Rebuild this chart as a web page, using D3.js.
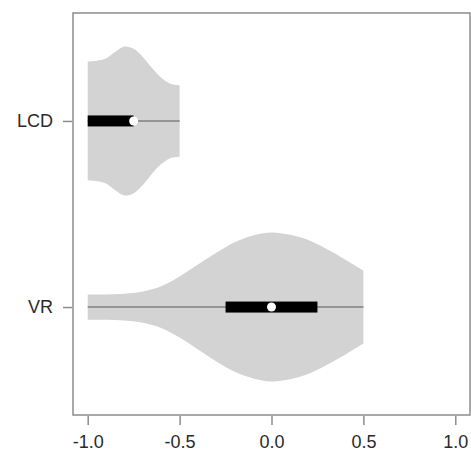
<!DOCTYPE html>
<html>
<head>
<meta charset="utf-8">
<script src="https://cdn.jsdelivr.net/npm/d3@7"></script>
<style>
  body { margin: 0; background: #fff; }
  text { font-family: "Liberation Sans", Arial, sans-serif; }
</style>
</head>
<body>
<script>
// groups (bottom to top)
var categories = ["VR", "LCD"];
var positions = [1, 2];

// box summaries
var mins    = [-1.0, -1.0];
var q1s     = [-0.25, -1.0];
var medians = [0.0, -0.75];
var q3s     = [0.25, -0.75];
var maxs    = [0.5, -0.5];

// density profiles (relative, max = 1)
var vrGrid  = [-1.0, -0.9, -0.8, -0.7, -0.6, -0.5, -0.4, -0.3, -0.2, -0.1, 0.0, 0.1, 0.2, 0.3, 0.4, 0.5];
var vrDens  = [0.17, 0.17, 0.18, 0.21, 0.28, 0.41, 0.57, 0.73, 0.87, 0.96, 1.0, 0.97, 0.90, 0.78, 0.64, 0.49];
var lcdGrid = [-1.0, -0.95, -0.9, -0.85, -0.8, -0.75, -0.7, -0.65, -0.6, -0.55, -0.5];
var lcdDens = [0.80, 0.81, 0.84, 0.93, 1.00, 0.97, 0.86, 0.71, 0.58, 0.50, 0.48];

var xTicks = [-1.0, -0.5, 0.0, 0.5, 1.0];

var W = 471, H = 451;
var svg = d3.select("body").append("svg").attr("width", W).attr("height", H);

var x = d3.scaleLinear().domain([-1.08, 1.08]).range([73, 470]);
var y = d3.scaleLinear().domain([0.42, 2.58]).range([415, 13]);
var halfW = y(0) - y(0.4); // max half width in px

var grids = [vrGrid, lcdGrid];
var dens = [vrDens, lcdDens];

categories.forEach(function(c, i) {
  var pts = grids[i].map(function(v, j) { return [v, dens[i][j]]; });
  var cy = y(positions[i]);
  var area = d3.area()
    .x(function(d) { return x(d[0]); })
    .y0(function(d) { return cy - d[1] * halfW; })
    .y1(function(d) { return cy + d[1] * halfW; })
    .curve(d3.curveCatmullRom.alpha(0.5));
  svg.append("path").attr("d", area(pts)).attr("fill", "#d3d3d3");

  svg.append("line")
    .attr("x1", x(mins[i])).attr("x2", x(maxs[i]))
    .attr("y1", cy).attr("y2", cy)
    .attr("stroke", "#7f7f7f").attr("stroke-width", 1.5);
  svg.append("rect")
    .attr("x", x(q1s[i])).attr("width", x(q3s[i]) - x(q1s[i]))
    .attr("y", cy - 5.5).attr("height", 11)
    .attr("fill", "#000");
  svg.append("circle")
    .attr("cx", x(medians[i])).attr("cy", cy).attr("r", 4.5)
    .attr("fill", "#fff");
});

// frame
svg.append("rect")
  .attr("x", 73).attr("y", 13).attr("width", 397).attr("height", 402)
  .attr("fill", "none").attr("stroke", "#8c8c8c").attr("stroke-width", 1.5);

var fmt = function(d) { return d3.format(".1f")(d).replace("\u2212", "-"); };

var xAxis = svg.append("g").attr("transform", "translate(0,416)")
  .call(d3.axisBottom(x).tickValues(xTicks).tickFormat(fmt)
    .tickSize(9).tickPadding(10).tickSizeOuter(0));
var yAxis = svg.append("g").attr("transform", "translate(72,0)")
  .call(d3.axisLeft(y).tickValues(positions)
    .tickFormat(function(d, i) { return categories[i]; })
    .tickSize(9).tickPadding(10).tickSizeOuter(0));

[xAxis, yAxis].forEach(function(g) {
  g.select(".domain").remove();
  g.selectAll("line").attr("stroke", "#8c8c8c").attr("stroke-width", 1.5);
  g.selectAll("text").attr("font-size", 18).attr("fill", "#2a2a2a")
    .attr("font-family", "'Liberation Sans', Arial, sans-serif");
});
</script>
</body>
</html>
